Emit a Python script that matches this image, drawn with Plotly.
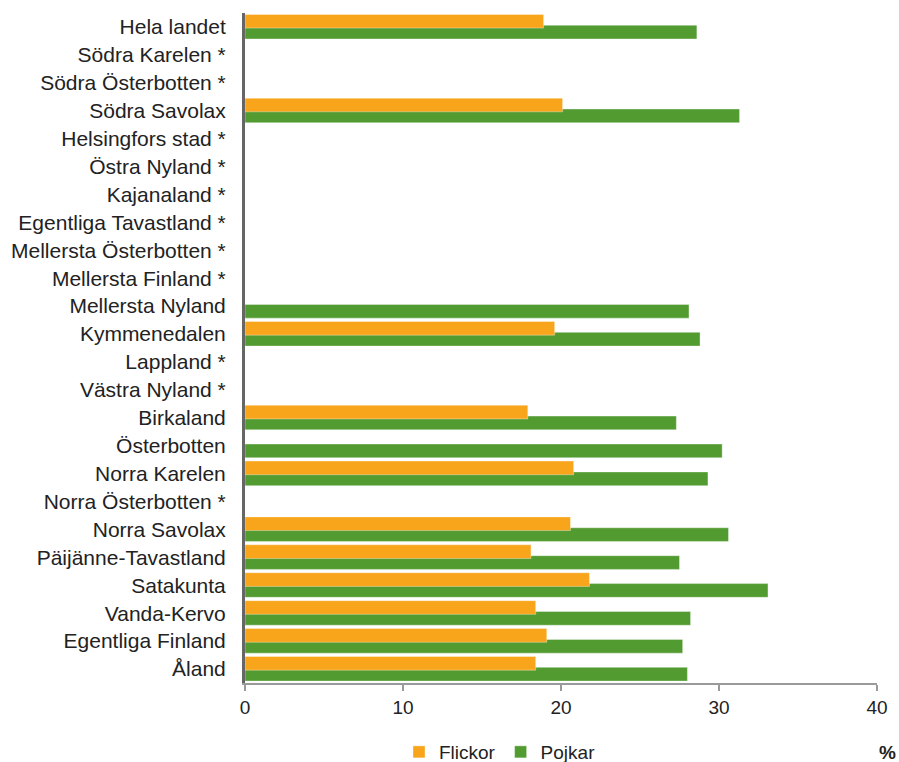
import plotly.graph_objects as go

regions = ["Hela landet", "Södra Karelen *", "Södra Österbotten *", "Södra Savolax",
           "Helsingfors stad *", "Östra Nyland *", "Kajanaland *", "Egentliga Tavastland *",
           "Mellersta Österbotten *", "Mellersta Finland *", "Mellersta Nyland", "Kymmenedalen",
           "Lappland *", "Västra Nyland *", "Birkaland", "Österbotten", "Norra Karelen",
           "Norra Österbotten *", "Norra Savolax", "Päijänne-Tavastland", "Satakunta",
           "Vanda-Kervo", "Egentliga Finland", "Åland"]
flickor = [18.9, None, None, 20.1, None, None, None, None, None, None, None, 19.6,
           None, None, 17.9, None, 20.8, None, 20.6, 18.1, 21.8, 18.4, 19.1, 18.4]
pojkar = [28.6, None, None, 31.3, None, None, None, None, None, None, 28.1, 28.8,
          None, None, 27.3, 30.2, 29.3, None, 30.6, 27.5, 33.1, 28.2, 27.7, 28.0]
x_ticks = [0, 10, 20, 30, 40]

ORANGE = "#F8A51B"
GREEN = "#529B30"
FONT = "Liberation Sans, Arial, sans-serif"
TXT = "#222222"

fig = go.Figure()
fig.add_trace(go.Bar(
    y=regions, x=pojkar, orientation="h", name="Pojkar",
    marker=dict(color=GREEN, line=dict(color="rgba(255,255,255,0.6)", width=0.6)),
    width=0.49, offset=-0.06, legendrank=2,
))
fig.add_trace(go.Bar(
    y=regions, x=flickor, orientation="h", name="Flickor",
    marker=dict(color=ORANGE, line=dict(color="rgba(255,255,255,0.6)", width=0.6)),
    width=0.49, offset=-0.45, legendrank=1,
))

fig.update_layout(
    width=899, height=762,
    margin=dict(l=245, r=22, t=13, b=79),
    plot_bgcolor="white", paper_bgcolor="white",
    font=dict(family=FONT, size=19, color=TXT),
    barmode="overlay",
    showlegend=True,
    legend=dict(orientation="h", x=399 / 899, y=10 / 762, xref="container", yref="container",
                xanchor="left", yanchor="middle",
                font=dict(size=19, color=TXT), itemwidth=30,
                traceorder="normal", tracegroupgap=0),
    xaxis=dict(range=[0, 40], tickvals=x_ticks, ticktext=[str(v) for v in x_ticks],
               showgrid=False, zeroline=False, showline=True, linecolor="#9a9a9a",
               linewidth=1.5, ticks="outside", ticklen=6, tickcolor="#9a9a9a",
               tickwidth=1.5, tickfont=dict(size=19, color=TXT),
               ticklabelstandoff=0, automargin=False),
    yaxis=dict(type="category", autorange="reversed", showgrid=False, zeroline=False,
               showline=True, linecolor="#666666", linewidth=3, ticks="",
               tickfont=dict(size=21, color=TXT), ticklabelstandoff=12,
               automargin=False),
)
fig.add_annotation(text="<b>%</b>", xref="paper", yref="paper", x=1.0, y=-0.103,
                   xanchor="left", yanchor="middle", showarrow=False,
                   font=dict(size=19, color=TXT))

fig.write_html("out.html")
